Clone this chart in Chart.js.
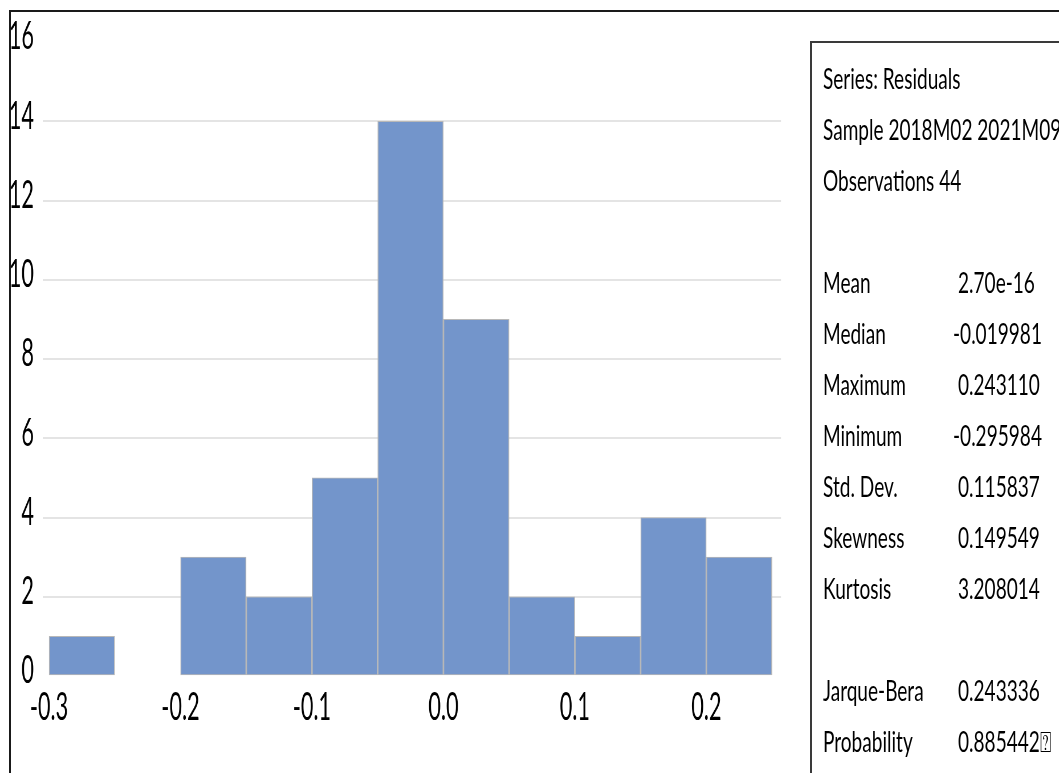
<!DOCTYPE html>
<html>
<head>
<meta charset="utf-8">
<script src="https://cdn.jsdelivr.net/npm/chart.js@4.4.0/dist/chart.umd.min.js"></script>
<style>
  html, body { margin: 0; padding: 0; background: #fff; width: 1059px; height: 773px; overflow: hidden; }
  #frame { position: absolute; left: 9px; top: 10px; width: 1200px; height: 900px;
           border-left: 2px solid #1a1a1a; border-top: 2px solid #1a1a1a; }
  #plot { position: absolute; left: 0; top: 0; transform-origin: 0 0; }
  #stats { position: absolute; left: 810px; top: 41px; width: 400px; height: 900px;
           border-left: 2px solid #3a3a3a; border-top: 2px solid #3a3a3a; }
  #statsText { position: absolute; left: 0; top: 0; width: 600px; height: 800px;
               transform-origin: 0 0; font-family: Lato, "Open Sans", sans-serif; color: #000; }
  .cell { position: absolute; white-space: nowrap; line-height: 1; }
</style>
</head>
<body>
<div id="frame"></div>
<div id="plot"><canvas id="c"></canvas></div>
<div id="stats"><div id="statsText"></div></div>
<script>
// Histogram of residuals: bins of width 0.05, lower edges and counts
const BIN_WIDTH = 0.05;
const binLower = [-0.30, -0.25, -0.20, -0.15, -0.10, -0.05, 0.00, 0.05, 0.10, 0.15, 0.20];
const counts   = [1, 0, 3, 2, 5, 14, 9, 2, 1, 4, 3];

// Axis ticks
const xTickValues = [-0.3, -0.2, -0.1, 0.0, 0.1, 0.2];
const yTickValues = [0, 2, 4, 6, 8, 10, 12, 14, 16];

// Descriptive statistics panel
const headerLines = ['Series: Residuals', 'Sample 2018M02 2021M09', 'Observations 44'];
const statNames   = ['Mean', 'Median', 'Maximum', 'Minimum', 'Std. Dev.', 'Skewness', 'Kurtosis'];
const statValues  = ['2.70e-16', '-0.019981', '0.243110', '-0.295984', '0.115837', '0.149549', '3.208014'];
const testNames   = ['Jarque-Bera', 'Probability'];
const testValues  = ['0.243336', '0.885442\u2370'];

// Narrow-looking text: the plot canvas is drawn wide and squeezed horizontally
const S = 0.57;
const W = Math.round(1059 / S), H = 773;
const FONT = 'Lato';

const canvas = document.getElementById('c');
canvas.width = W; canvas.height = H;
canvas.style.width = W + 'px'; canvas.style.height = H + 'px';
document.getElementById('plot').style.transform = 'scaleX(' + S + ')';

new Chart(canvas, {
  type: 'bar',
  data: {
    datasets: [{
      data: binLower.map((b, i) => ({ x: b + BIN_WIDTH / 2, y: counts[i] })),
      backgroundColor: '#7395cb',
      borderColor: '#b8b8b8',
      borderWidth: { top: 1, bottom: 1, left: 1.7, right: 1.7 },
      borderSkipped: false,
      barPercentage: 1,
      categoryPercentage: 1
    }]
  },
  options: {
    responsive: false,
    animation: false,
    devicePixelRatio: 1,
    layout: { padding: { left: 0, top: 42, right: W - 781 / S, bottom: 0 } },
    plugins: { legend: { display: false }, tooltip: { enabled: false } },
    scales: {
      x: {
        type: 'linear', min: -0.3046, max: 0.2568, offset: false,
        grid: { display: false, drawTicks: false, offset: false }, border: { display: false },
        afterBuildTicks: s => { s.ticks = xTickValues.map(v => ({ value: v })); },
        afterFit: s => { s.height = H - 676; s.paddingLeft = 0; s.paddingRight = 0; },
        ticks: { padding: 9, color: '#000', font: { family: FONT, size: 38 },
                 maxRotation: 0, autoSkip: false, callback: v => Number(v).toFixed(1) }
      },
      y: {
        min: 0, max: 16,
        grid: { drawTicks: false, lineWidth: 2,
                color: c => (c.tick && c.tick.value > 0 && c.tick.value < 16) ? '#e4e4e4' : 'rgba(0,0,0,0)' },
        border: { display: false },
        afterBuildTicks: s => { s.ticks = yTickValues.map(v => ({ value: v })); },
        afterFit: s => { s.width = 43 / S; s.paddingTop = 0; s.paddingBottom = 0; },
        ticks: { padding: 9 / S, color: '#000', font: { family: FONT, size: 38 },
                 labelOffset: -5, callback: v => String(v) }
      }
    }
  }
});

// Statistics text, squeezed the same way
const S2 = 0.657;
const FS = 29;
const ROW0 = 78, ROW_STEP = 51;          // row centres on the page
const ORIGIN_X = 812, ORIGIN_Y = 43;     // inner corner of the panel
const LABEL_X = 823, VALUE_X = 958;
const box = document.getElementById('statsText');
box.style.transform = 'scaleX(' + S2 + ')';
box.style.fontSize = FS + 'px';

function addCell(text, pageX, row) {
  const el = document.createElement('div');
  el.className = 'cell';
  el.textContent = text;
  el.style.left = ((pageX - ORIGIN_X) / S2) + 'px';
  el.style.top = (ROW0 + ROW_STEP * row - ORIGIN_Y - 0.53 * FS) + 'px';
  box.appendChild(el);
}
function addValue(text, row) {
  addCell(text, VALUE_X - (text.startsWith('-') ? 5 : 0), row);
}
headerLines.forEach((t, i) => addCell(t, LABEL_X, i));
statNames.forEach((t, i) => { addCell(t, LABEL_X, 4 + i); addValue(statValues[i], 4 + i); });
testNames.forEach((t, i) => { addCell(t, LABEL_X, 12 + i); addValue(testValues[i], 12 + i); });
</script>
</body>
</html>
